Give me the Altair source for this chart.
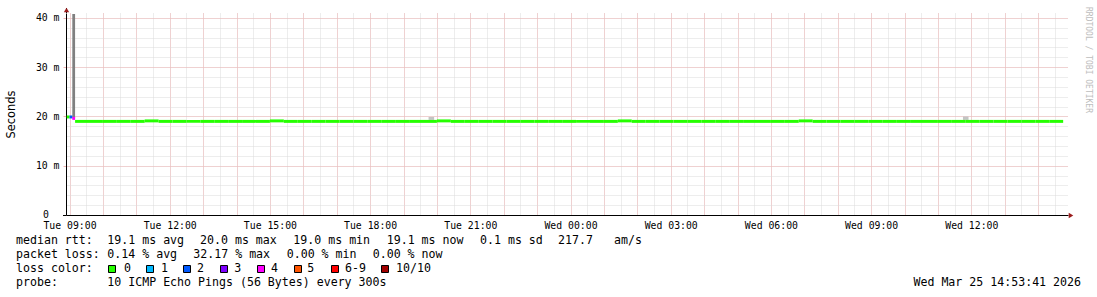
import altair as alt
import pandas as pd

# ---------------- data ----------------
# first samples (5-minute steps) with their loss class
first_times = ["2026-03-24T08:55:00", "2026-03-24T09:00:00", "2026-03-24T09:05:00"]
first_median_ms = [19.9, 19.9, 19.6]
first_loss = ["0", "2", "4"]

# after that: median rtt in 25-minute blocks, all with 0 loss
block_start = "2026-03-24T09:10:00"
block_median_ms = [
    19.0, 19.0, 19.0, 19.0, 19.0, 19.1, 19.0, 19.0, 19.0, 19.0,
    19.0, 19.0, 19.0, 19.0, 19.1, 19.0, 19.0, 19.0, 19.0, 19.0,
    19.0, 19.0, 19.0, 19.0, 19.0, 19.0, 19.1, 19.0, 19.0, 19.0,
    19.0, 19.0, 19.0, 19.0, 19.0, 19.0, 19.0, 19.0, 19.0, 19.1,
    19.0, 19.0, 19.0, 19.0, 19.0, 19.0, 19.0, 19.0, 19.0, 19.0,
    19.0, 19.0, 19.1, 19.0, 19.0, 19.0, 19.0, 19.0, 19.0, 19.0,
    19.0, 19.0, 19.0, 19.0, 19.0, 19.0, 19.0, 19.0, 19.0, 19.0,
    19.0,
]

# smoke (spread of individual pings)
smoke_start = ["2026-03-24T09:05:00", "2026-03-24T19:45:00", "2026-03-25T11:45:00"]
smoke_end = ["2026-03-24T09:10:00", "2026-03-24T19:55:00", "2026-03-25T11:55:00"]
smoke_low_ms = [19.6, 19.3, 19.3]
smoke_high_ms = [40.8, 19.9, 20.0]
smoke_shade = ["smoke-dark", "smoke-light", "smoke-light"]

loss_classes = ["0", "1", "2", "3", "4", "5", "6-9", "10/10"]
loss_colors = ["#26ff00", "#00b8ff", "#0059ff", "#7e00ff", "#ff00ff", "#ff5500", "#ff0000", "#a10000"]
smoke_classes = ["smoke-dark", "smoke-light"]
smoke_colors = ["#808080", "#c4c4c4"]

y_major = [0, 10, 20, 30, 40]
y_minor = [0, 2, 4, 6, 8, 10, 12, 14, 16, 18, 20, 22, 24, 26, 28, 30, 32, 34, 36, 38, 40]

stats_rtt = ["median rtt:", "19.1 ms avg", "20.0 ms max", "19.0 ms min", "19.1 ms now", "0.1 ms sd", "217.7", "am/s"]
stats_loss = ["packet loss:", "0.14 % avg", "32.17 % max", "0.00 % min", "0.00 % now"]
probe_line = ["probe:", "10 ICMP Echo Pings (56 Bytes) every 300s"]
stamp = "Wed Mar 25 14:53:41 2026"
watermark = "RRDTOOL / TOBI OETIKER"
zero_label = "0"

# ---------------- tables ----------------
step5 = pd.Timedelta(minutes=5)
blk = pd.Timedelta(minutes=25)
ft = pd.to_datetime(first_times)
bt = pd.date_range(block_start, periods=len(block_median_ms), freq="25min")
med = pd.DataFrame({
    "start": list(ft) + list(bt),
    "end": list(ft + step5) + list(bt + blk),
    "median": first_median_ms + block_median_ms,
    "cls": first_loss + ["0"] * len(block_median_ms),
})
smoke = pd.DataFrame({
    "start": pd.to_datetime(smoke_start),
    "end": pd.to_datetime(smoke_end),
    "low": smoke_low_ms,
    "high": smoke_high_ms,
    "cls": smoke_shade,
})

# ---------------- styling ----------------
W, H = 1002, 202
LEFT, TOP = 66, 13
MONO = "DejaVu Sans Mono"
MAJOR = "#F0B4B4"
MINOR = "#DADADA"

t0 = pd.Timestamp("2026-03-24T08:53:41")
t1 = pd.Timestamp("2026-03-25T14:53:41")


def dt(ts):
    return alt.DateTime(year=ts.year, month=ts.month, date=ts.day,
                        hours=ts.hour, minutes=ts.minute, seconds=ts.second)


xdom = [dt(t0), dt(t1)]
hour_ticks = [dt(t) for t in pd.date_range(t0.ceil("h"), t1, freq="h")]
half_ticks = [dt(t) for t in pd.date_range(t0.ceil("30min"), t1, freq="30min")]

xscale = alt.Scale(domain=xdom)
yscale = alt.Scale(domain=[0, 41], nice=False, zero=True)
cscale = alt.Scale(domain=loss_classes + smoke_classes, range=loss_colors + smoke_colors)

x_minor_axis = alt.Axis(orient="bottom", values=half_ticks,
                        grid=True, gridColor=MINOR, gridDash=[1, 1], gridWidth=1,
                        labels=False, ticks=False, domain=False, title="")
x_major_axis = alt.Axis(orient="bottom", values=hour_ticks,
                        grid=True, gridColor=MAJOR, gridDash=[1, 1], gridWidth=1,
                        labelExpr="hours(datum.value) % 3 == 0 ? timeFormat(datum.value, '%a %H:%M') : ''",
                        labelOverlap=False, labelFlush=False, labelFont=MONO, labelFontSize=9.8,
                        labelColor="#000000", labelPadding=5, ticks=False,
                        domain=True, domainColor="#000000", domainWidth=1, title="")
y_minor_axis = alt.Axis(orient="left", values=y_minor, grid=True, gridColor=MINOR, gridDash=[1, 1],
                        labels=False, ticks=False, domain=False, title="")
y_major_axis = alt.Axis(orient="left", values=y_major, grid=True, gridColor=MAJOR, gridDash=[1, 1],
                        labelExpr="datum.value == 0 ? '' : datum.value + ' m'",
                        labelFont=MONO, labelFontSize=9.8, labelColor="#000000", labelPadding=4,
                        ticks=True, tickSize=3, tickColor=MAJOR,
                        domain=True, domainColor="#000000", domainWidth=1,
                        title="Seconds", titleFont="DejaVu Sans", titleFontSize=11.4,
                        titleFontWeight="normal", titleColor="#000000",
                        titleX=-55, titleY=H / 2, titleAngle=270, titleAlign="center",
                        titleBaseline="middle")

smoke_layer = alt.Chart(smoke).mark_rect(strokeWidth=0).encode(
    x=alt.X("start:T", scale=xscale, axis=x_minor_axis),
    x2="end:T",
    y=alt.Y("low:Q", scale=yscale, axis=y_minor_axis),
    y2="high:Q",
    color=alt.Color("cls:N", scale=cscale, legend=None),
)

median_layer = alt.Chart(med).transform_calculate(
    lo="datum.median - 0.3", hi="datum.median + 0.3"
).mark_rect(strokeWidth=0).encode(
    x=alt.X("start:T", scale=xscale, axis=x_major_axis),
    x2="end:T",
    y=alt.Y("lo:Q", scale=yscale, axis=y_major_axis),
    y2="hi:Q",
    color=alt.Color("cls:N", scale=cscale, legend=None),
)

one = pd.DataFrame({"k": [0]})
layers = [smoke_layer, median_layer]

# axis extensions + arrows
layers.append(alt.Chart(one).mark_rule(color="#000000", strokeWidth=1).encode(
    x=alt.value(0.5), y=alt.value(-5), y2=alt.value(0)))
layers.append(alt.Chart(one).mark_rule(color="#000000", strokeWidth=1).encode(
    x=alt.value(-3), x2=alt.value(0.5), y=alt.value(H + 0.5)))
layers.append(alt.Chart(one).mark_point(shape="triangle-up", filled=True, size=28, color="#9b1c1c", opacity=1).encode(
    x=alt.value(0.5), y=alt.value(-3)))
layers.append(alt.Chart(one).mark_point(shape="triangle-right", filled=True, size=28, color="#9b1c1c", opacity=1).encode(
    x=alt.value(W + 3), y=alt.value(H + 0.5)))


def txt(s, px, py, size=11.6, align="left", color="#000000", font=MONO, angle=0):
    kw = dict(text=s, font=font, fontSize=size, align=align, baseline="middle", color=color)
    if angle:
        kw["angle"] = angle
    return alt.Chart(one).mark_text(**kw).encode(x=alt.value(px - LEFT), y=alt.value(py - TOP))


# the "0" tick label sits further left than the "NN m" labels
layers.append(txt(zero_label, 43, 215, size=9.8))

# statistics lines
rtt_x = [16, 107.3, 200, 293.3, 386.7, 480, 558, 614]
for s, px in zip(stats_rtt, rtt_x):
    layers.append(txt(s, px, 241))
loss_x = [16, 107.3, 193.3, 286.7, 372.7]
for s, px in zip(stats_loss, loss_x):
    layers.append(txt(s, px, 255))

# loss colour legend
layers.append(txt("loss color:", 16, 269))
box_x = [108, 146, 183, 220, 257, 294, 331, 381]
lab_x = [124, 161, 197, 234.3, 271, 307.3, 345, 396]
for cls, col, bx, lx in zip(loss_classes, loss_colors, box_x, lab_x):
    layers.append(alt.Chart(one).mark_rect(fill=col, stroke="#000000", strokeWidth=1).encode(
        x=alt.value(bx - LEFT + 0.5), x2=alt.value(bx - LEFT + 7.5),
        y=alt.value(265 - TOP + 0.5), y2=alt.value(265 - TOP + 7.5)))
    layers.append(txt(cls, lx, 269))

layers.append(txt(probe_line[0], 16, 283))
layers.append(txt(probe_line[1], 107.3, 283))
layers.append(txt(stamp, 1081, 283, align="right"))
layers.append(txt(watermark, 1088, 60, size=8, align="center", color="#bdbdbd", angle=90))

chart = alt.layer(*layers).resolve_axis(x="independent", y="independent").properties(
    width=W, height=H,
    autosize=alt.AutoSizeParams(type="none"),
    padding={"left": LEFT, "top": TOP, "right": 1097 - LEFT - W, "bottom": 297 - TOP - H},
    background="#ffffff",
).configure_view(strokeWidth=0)

chart.save("out.html", embed_options={"renderer": "svg", "actions": False})
